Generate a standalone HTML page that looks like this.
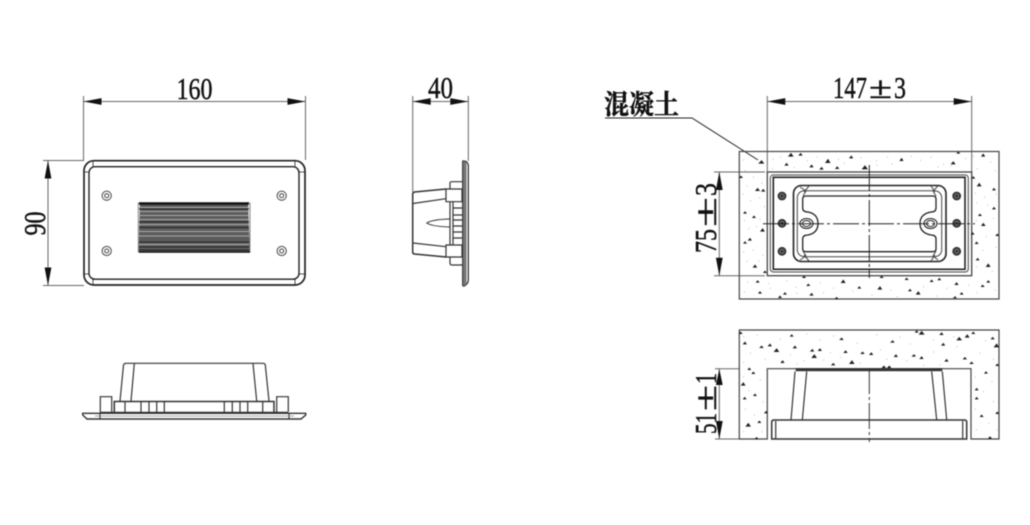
<!DOCTYPE html>
<html><head><meta charset="utf-8"><style>
html,body{margin:0;padding:0;background:#fff;width:1030px;height:525px;overflow:hidden}
svg{display:block;filter:blur(.4px)}
text{font-family:"Liberation Serif","Noto Serif CJK SC",serif;fill:#111;stroke:#111;stroke-width:.45px}
</style></head><body>
<svg width="1030" height="525" viewBox="0 0 1030 525" xmlns="http://www.w3.org/2000/svg">
<rect width="1030" height="525" fill="#fff"/>

<!-- DIMENSION LINES -->
<g fill="none" stroke="#666" stroke-width="1">
<path d="M83.5 96V160M305.5 96V160M83.5 101.5H305.5"/>
<path d="M43 160.5H84M43 285.5H84M48 160.5V285.5"/>
<path d="M412.7 96V192M468.3 96V161M412.7 101.5H468.3"/>
<path d="M767.3 96V172M971.7 96V172M767.3 101.5H971.7"/>
<path d="M714 172H765M714 275.7H765M719.3 172V275.7"/>
<path d="M715 368.7H739M715 439H739M719.3 368.7V439"/>
</g>
<g fill="#111">
<path d="M83.5 101.5l18-3.4v6.8zM305.5 101.5l-18-3.4v6.8z"/>
<path d="M48 160.5l-3.4 18h6.8zM48 285.5l-3.4-18h6.8z"/>
<path d="M412.7 101.5l18-3.4v6.8zM468.3 101.5l-18-3.4v6.8z"/>
<path d="M767.3 101.5l18-3.4v6.8zM971.7 101.5l-18-3.4v6.8z"/>
<path d="M719.3 172l-3.4 18h6.8zM719.3 275.7l-3.4-18h6.8z"/>
<path d="M719.3 369l-3.4 16h6.8zM719.3 439l-3.4-18h6.8z"/>
</g>
<text x="176.5" y="99" font-size="31" textLength="36" lengthAdjust="spacingAndGlyphs">160</text>
<text x="428" y="98" font-size="31" textLength="25" lengthAdjust="spacingAndGlyphs">40</text>
<text x="833" y="98" font-size="31" textLength="34" lengthAdjust="spacingAndGlyphs">147</text>
<text x="869" y="98" font-size="31" textLength="23" lengthAdjust="spacingAndGlyphs">±</text>
<text x="894" y="98" font-size="31" textLength="12" lengthAdjust="spacingAndGlyphs">3</text>
<text transform="translate(45 235.5) rotate(-90)" font-size="31" textLength="24" lengthAdjust="spacingAndGlyphs">90</text>
<g transform="translate(716 253) rotate(-90)">
<text x="0" y="0" font-size="31" textLength="24" lengthAdjust="spacingAndGlyphs">75</text>
<text x="26" y="0" font-size="31" textLength="30" lengthAdjust="spacingAndGlyphs">±</text>
<text x="57" y="0" font-size="31" textLength="13" lengthAdjust="spacingAndGlyphs">3</text>
</g>
<g transform="translate(716 434) rotate(-90)">
<text x="0" y="0" font-size="31" textLength="21" lengthAdjust="spacingAndGlyphs">51</text>
<text x="23" y="0" font-size="31" textLength="26" lengthAdjust="spacingAndGlyphs">±</text>
<text x="50" y="0" font-size="31" textLength="11" lengthAdjust="spacingAndGlyphs">1</text>
</g>
<text x="604" y="114" font-size="27" font-weight="700" textLength="75" lengthAdjust="spacingAndGlyphs" style="font-family:'Noto Serif CJK SC','Noto Sans CJK SC',serif">混凝土</text>
<path d="M605 118H692L758 160" fill="none" stroke="#222" stroke-width="1"/>

<!-- FRONT VIEW -->
<g fill="none" stroke="#222">
<rect x="84" y="160.7" width="221" height="124.3" rx="10" stroke-width="1.7"/>
<rect x="89" y="166.7" width="210" height="112.5" rx="6" stroke-width="1.4"/>
<path d="M84 172l5 0M305 172h-6M84 274h5M305 274h-6M93 161v6M295 161v6M93 285v-6M295 285v-6" stroke-width=".8"/>
<g stroke-width="1" stroke="#444">
<circle cx="106.7" cy="195.7" r="4.6"/><circle cx="281.7" cy="195.7" r="4.6"/>
<circle cx="106.7" cy="251" r="4.6"/><circle cx="281.7" cy="251" r="4.6"/>
<circle cx="106.7" cy="195.7" r="2"/><circle cx="281.7" cy="195.7" r="2"/>
<circle cx="106.7" cy="251" r="2"/><circle cx="281.7" cy="251" r="2"/>
</g>
</g>
<!-- Louver -->
<path d="M140 202.5H248L250 252.5H138.3Z" fill="#5c5c5c"/>
<path d="M138.3 202.5V252.5M250 202.5V252.5" stroke="#888" stroke-width="1"/>
<g stroke-width="1" fill="none">
<path stroke="#111" stroke-width="2.4" d="M139 203.5H249"/>
<path stroke="#aaa" d="M139 207.5H249M139 211.5H249M139 215.5H249M139 219.5H249M139 224.5H249M139 231.5H249M139 236H249M139 244.5H249"/>
<path stroke="#222" d="M139 209H249M139 222H249M139 227.5H249M139 242H249M139 247H249M139 250H249"/>
<path stroke="#111" stroke-width="1.4" d="M139 252H250"/>
</g>

<!-- BOTTOM VIEW -->
<g fill="none" stroke="#333" stroke-width="1.2">
<path d="M120 401L123.5 365Q124 363.3 126 363.3H263Q265 363.3 265.3 365L269 401" />
<path d="M134.3 363.5L131 401M253 363.5L256.7 401"/>
<path d="M114.3 412V401.5H274V412" stroke-width="1.5"/>
<path d="M100.3 412V396.7H111.7V412M276.7 412V396.7H288.3V412"/>
<path d="M125 401V412M141 401V412M149 401V412M156.7 401V412M164.3 401V412M224.3 401V412M232.3 401V412M240 401V412M247.7 401V412M262.7 401V412"/>
<path d="M82.7 413.3H305.7V415L301 419H87L82.7 415Z" stroke-width="1.4"/>
<path d="M100 413V419M289 413V419"/>
<path d="M100 412.5H288" stroke-width="1.6"/>
<path d="M95 416H294" stroke="#888" stroke-width=".8"/>
</g>

<!-- SIDE VIEW -->
<g fill="none" stroke="#333" stroke-width="1.2">
<path d="M462.7 160.7V286M462.7 160.7L466 161.5Q468.3 163 468.3 166V280Q468.3 284 464 286H462.7" stroke-width="1.3"/>
<path d="M465 162V285" stroke="#777" stroke-width="3"/>
<path d="M446 189L414.5 192Q412.7 192.5 412.7 194V252Q412.7 254 414.5 254L446 257" stroke-width="1.5"/>
<path d="M413 203.5L446 198.7M413 243L446 246.7"/>
<path d="M446 189H462V201.7H446ZM446 245H462V257H446Z"/>
<path d="M450 189V183Q450 181.7 452 181.7H462.7M450 257V263Q450 265 452 265H462.7"/>
<path d="M453 201.7V245M453 208H462M453 215H462M453 220H462M453 226H462M453 232H462M453 238H462"/>
<path d="M450 219Q432 219.5 426.7 223Q432 226.5 450 227" stroke-width="1"/>
<path d="M450 201.7V245"/>
</g>

<!-- CONCRETE TOP -->
<g fill="none" stroke="#444">
<rect x="739.3" y="151.5" width="259.7" height="147.5" stroke-width="1.2"/>
<rect x="767.3" y="172" width="204.4" height="103.7" fill="#fff" stroke-width="1.3"/>
<rect x="770.3" y="175" width="198" height="97" rx="3" stroke-width="1"/>
<rect x="773.3" y="177.3" width="191.7" height="92" stroke="#222" stroke-width="1.6"/>
<rect x="793.5" y="185.5" width="152.5" height="76" rx="8" stroke="#222" stroke-width="1.6"/>
<rect x="797.3" y="190.7" width="144.4" height="66" rx="7" stroke-width="1"/>
<path d="M806 196H933Q936 196 936 199V208Q936 212 931 212Q920 214 920 223.5Q920 233 931 235Q936 235 936 239V249Q936 251.7 933 251.7H806Q802.7 251.7 802.7 249V239Q802.7 235 808 235Q818 233 818 223.5Q818 214 808 212Q802.7 212 802.7 208V199Q802.7 196 806 196Z" stroke="#222" stroke-width="1.3"/>
<path d="M800 187L806 191L803 196M809 186L804 192M938 186L933 191L936 196M931 186L935 192M800 260L806 256L803 251M809 261L804 255M938 260L933 256L936 251M931 261L935 255" stroke-width="1"/>
<ellipse cx="806.5" cy="223.5" rx="6.5" ry="5" stroke="#222" stroke-width="1.1"/>
<ellipse cx="930.5" cy="223.5" rx="6.5" ry="5" stroke="#222" stroke-width="1.1"/>
<ellipse cx="806.5" cy="223.5" rx="4" ry="3" stroke="#222" stroke-width="1"/>
<ellipse cx="930.5" cy="223.5" rx="4" ry="3" stroke="#222" stroke-width="1"/>
</g>
<g fill="#333">
<circle cx="782" cy="196" r="4.4"/><circle cx="782" cy="223.3" r="4.4"/><circle cx="782" cy="251.3" r="4.4"/>
<circle cx="956.7" cy="196" r="4.4"/><circle cx="956.7" cy="223.3" r="4.4"/><circle cx="956.7" cy="251.3" r="4.4"/>
</g>
<g fill="none" stroke="#888" stroke-width=".8">
<circle cx="782" cy="196" r="2"/><circle cx="782" cy="223.3" r="2"/><circle cx="782" cy="251.3" r="2"/>
<circle cx="956.7" cy="196" r="2"/><circle cx="956.7" cy="223.3" r="2"/><circle cx="956.7" cy="251.3" r="2"/>
</g>
<path d="M763 223.7H975" stroke="#222" stroke-width="1" stroke-dasharray="26 3 3 3"/>
<path d="M869.3 165V278" stroke="#222" stroke-width="1" stroke-dasharray="26 3 3 3"/>

<!-- speckles top (zoom coords) -->
<g transform="translate(590 70) scale(.3333)">
<path fill="#222" stroke="#222" stroke-width="2" d="M515 272l-8 8h14zM603 250l-7 9h13zM632 250l-5 6h9zM714 268l-7 10h13zM784 258l-5 6h9zM935 265l-5 7h9zM1090 275l-6 7h11zM1180 252l-5 7h9zM590 280l-5 6h9zM665 285l-5 6h9zM695 292l-5 6h9zM742 290l-5 6h9zM825 287l-8 10h15zM1105 246l-4 4h8zM453 318l-4 5h8zM503 355l-6 7h11zM520 358l-5 6h9zM1168 340l-6 8h11zM1212 355l-4 5h8zM465 425l-4 5h8zM492 438l-4 5h8zM518 476l-6 8h11zM1212 412l-4 5h8zM1180 460l-5 7h10zM1170 432l-4 5h8zM480 505l-5 6h9zM465 515l-4 5h8zM1148 488l-4 5h8zM1222 492l-4 5h8zM1160 516l-4 5h8zM495 585l-5 7h10zM1163 565l-4 5h8zM1195 582l-6 8h11zM525 603l-4 5h8zM1150 320l-4 5h8zM503 632l-4 5h8zM642 618l-4 5h8zM760 630l-6 8h11zM875 618l-4 5h8zM950 624l-4 5h8zM1025 630l-4 5h8zM1048 625l-4 5h8zM1100 638l-5 6h9zM1195 632l-4 5h8zM1178 645l-4 5h8zM655 642l-4 5h8zM570 678l-4 5h8zM585 668l-4 5h8zM665 670l-5 6h9zM740 682l-5 5h9zM808 650l-4 5h8zM870 650l-6 8h11zM960 658l-4 5h8zM985 665l-6 8h11zM1115 668l-4 5h8zM1095 680l-4 4h8zM510 665l-4 5h8z"/>
<path fill="none" stroke="#999" stroke-width="3" d="M460 270h2M478 256h2M548 268h2M571 262h2M651 272h2M681 261h2M744 268h2M762 280h2M812 263h2M858 272h2M892 262h2M963 259h2M991 271h2M1022 262h2M1060 283h2M1126 266h2M1150 259h2M1201 276h2M546 296h2M612 293h2M860 285h2M905 282h2M1043 291h2M1082 288h2M1160 296h2M1215 302h2M465 302h2M490 322h2M515 340h2M470 348h2M458 372h2M480 392h2M508 384h2M522 410h2M462 452h2M499 470h2M475 476h2M509 448h2M1156 370h2M1183 382h2M1218 372h2M1192 406h2M1160 398h2M1210 445h2M1188 500h2M1158 452h2M1217 532h2M1178 541h2M1158 590h2M1206 604h2M460 546h2M488 540h2M518 556h2M470 574h2M505 573h2M472 636h2M535 640h2M590 632h2M618 652h2M690 640h2M730 655h2M788 664h2M845 676h2M902 660h2M1000 650h2M1070 655h2M1135 645h2M1160 668h2M1215 660h2M462 665h2M540 655h2M620 670h2M700 668h2M920 680h2M1040 678h2"/>
</g>

<!-- CONCRETE BOTTOM -->
<g fill="none" stroke="#444" stroke-width="1.2">
<path d="M739.3 330H999V439H971V368.7H767.3V439H739.3Z"/>
</g>
<g transform="translate(680 320) scale(.3333)">
<path fill="#222" stroke="#222" stroke-width="2" d="M182 36l-4 5h8zM725 34l-7 9h14zM785 38l-5 6h9zM710 32l-4 5h8zM880 36l-4 5h8zM838 52l-7 8h13zM862 44l-6 8h11zM938 52l-4 5h8zM335 44l-4 5h8zM195 66l-5 6h9zM245 78l-5 5h9zM270 72l-5 6h9zM290 86l-7 9h13zM345 78l-5 6h9zM485 54l-5 5h9zM638 62l-5 5h9zM790 70l-5 6h9zM950 72l-7 9h13zM397 88l-5 6h9zM420 86l-5 6h9zM403 104l-7 9h13zM497 92l-5 6h9zM548 96l-5 5h9zM574 98l-5 6h9zM648 104l-5 6h9zM702 104l-5 5h9zM725 110l-5 6h9zM800 118l-5 6h9zM855 112l-5 5h9zM875 126l-5 5h9zM952 132l-4 5h8zM308 122l-5 6h9zM516 122l-7 9h13zM460 130l-5 5h9zM612 138l-5 5h9zM628 138l-5 5h9zM208 144l-4 5h8zM220 156l-4 5h8zM918 155l-4 5h8zM190 188l-6 8h11zM225 222l-4 5h8zM194 232l-4 5h8zM890 205l-4 5h8zM890 232l-4 5h8zM258 274l-4 5h8zM905 285l-4 5h8zM238 303l-4 5h8zM205 310l-7 9h13zM952 276l-4 5h8zM930 350l-4 5h8zM230 352l-5 5h9z"/>
<path fill="none" stroke="#999" stroke-width="3" d="M190 50h2M230 45h2M300 58h2M380 42h2M420 60h2M460 48h2M530 70h2M590 44h2M660 52h2M690 72h2M760 60h2M820 50h2M915 62h2M210 100h2M255 118h2M330 104h2M372 122h2M450 98h2M480 112h2M600 90h2M620 118h2M680 122h2M760 96h2M830 80h2M900 100h2M940 118h2M190 128h2M350 132h2M430 120h2M540 130h2M730 136h2M780 134h2M190 170h2M240 180h2M205 212h2M248 245h2M195 268h2M222 285h2M190 335h2M245 335h2M885 172h2M935 185h2M910 215h2M940 245h2M885 268h2M925 310h2M888 330h2M950 330h2"/>
</g>
<g fill="none" stroke="#333" stroke-width="1.2">
<path d="M795 371.5L791 420M806.7 371.5L802.3 420M931.7 371.5L936.7 420M942.3 371.5L946.7 420"/>
<path d="M771.7 439V422Q771.7 420 774 420H964.5Q966.7 420 966.7 422V439H771.7Z" stroke-width="1.5"/>
<path d="M775.7 421V439M962.7 421V439"/>
</g>
<rect x="795.7" y="368.2" width="146.6" height="3" fill="#333"/>
<path d="M869.3 368V442" stroke="#333" stroke-width="1" stroke-dasharray="26 3 3 3"/>
</svg>
</body></html>
